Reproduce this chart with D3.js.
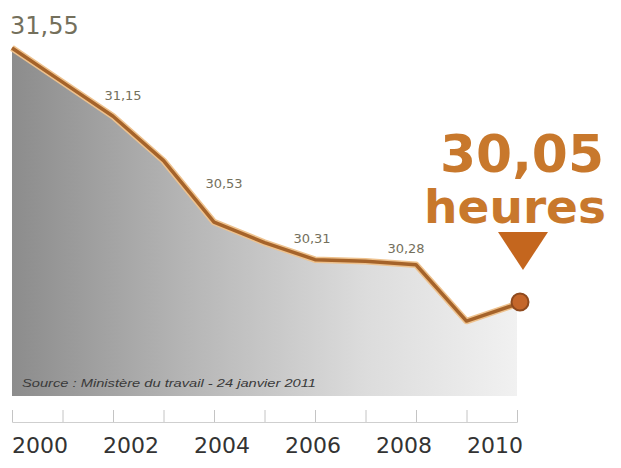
<!DOCTYPE html>
<html lang="fr">
<head>
<meta charset="UTF-8">
<title>Durée hebdomadaire du travail</title>
<script src="https://d3js.org/d3.v7.min.js"></script>
<style>
  body { margin: 0; background: #fff; }
  svg { display: block; }
</style>
</head>
<body>
<svg id="chart" width="621" height="468"></svg>
<script>
// Données
const years = [2000, 2001, 2002, 2003, 2004, 2005, 2006, 2007, 2008, 2009, 2010];
const hours = [31.55, 31.35, 31.15, 30.89, 30.53, 30.41, 30.31, 30.30, 30.28, 29.95, 30.05];
const labelYears = [2000, 2002, 2004, 2006, 2008, 2010];
const valueLabels = ["31,55", "31,15", "30,53", "30,31", "30,28"];
const valueLabelYears = [2000, 2002, 2004, 2006, 2008];
const lastValue = "30,05";
const unit = "heures";
const source = "Source : Ministère du travail - 24 janvier 2011";

const data = years.map((y, i) => ({ year: y, value: hours[i] }));

const svg = d3.select("#chart");
const defs = svg.append("defs");

const x = d3.scaleLinear().domain([2000, 2010]).range([12, 517]);
const y = d3.scaleLinear().domain([30.05, 31.55]).range([304, 48]);
const labelX = d3.scaleLinear().domain([2000, 2010]).range([40, 495]);
const baseY = 396;

// dégradé de fond
const grad = defs.append("linearGradient")
    .attr("id", "fillGrad")
    .attr("x1", "0%").attr("y1", "0%").attr("x2", "100%").attr("y2", "0%");
grad.append("stop").attr("offset", "0%").attr("stop-color", "#8c8c8c");
grad.append("stop").attr("offset", "35%").attr("stop-color", "#b6b6b6");
grad.append("stop").attr("offset", "70%").attr("stop-color", "#dcdcdc");
grad.append("stop").attr("offset", "100%").attr("stop-color", "#f1f1f1");

const area = d3.area()
    .x(d => x(d.year))
    .y0(baseY)
    .y1(d => y(d.value));

svg.append("path")
    .datum(data)
    .attr("d", area)
    .attr("fill", "url(#fillGrad)");

// ligne
const line = d3.line()
    .x(d => x(d.year))
    .y(d => y(d.value));

svg.append("path")
    .datum(data)
    .attr("d", line)
    .attr("fill", "none")
    .attr("stroke", "#eec28e")
    .attr("stroke-width", 6.5)
    .attr("stroke-linejoin", "round");

svg.append("path")
    .datum(data)
    .attr("d", line)
    .attr("fill", "none")
    .attr("stroke", "#a5632a")
    .attr("stroke-width", 3.5)
    .attr("stroke-linejoin", "round");

// point final
const last = data[data.length - 1];
svg.append("circle")
    .attr("cx", x(last.year) + 3)
    .attr("cy", y(last.value) - 2)
    .attr("r", 8.5)
    .attr("fill", "#c4662a")
    .attr("stroke", "#8f4a1e")
    .attr("stroke-width", 2);

// source
svg.append("text")
    .attr("x", 22)
    .attr("y", 387)
    .attr("font-family", "Liberation Sans, Arial, sans-serif")
    .attr("font-size", 11.5)
    .attr("font-style", "italic")
    .attr("fill", "#3a3a3a")
    .attr("textLength", 294)
    .attr("lengthAdjust", "spacingAndGlyphs")
    .text(source);

// étiquettes de valeurs
const offsets = [[-2, -14], [10, -16], [10, -34], [-3, -17], [-10, -12]];
svg.selectAll("text.val")
    .data(valueLabels)
    .join("text")
    .attr("class", "val")
    .attr("x", (d, i) => x(valueLabelYears[i]) + offsets[i][0])
    .attr("y", (d, i) => y(hours[years.indexOf(valueLabelYears[i])]) + offsets[i][1])
    .attr("text-anchor", (d, i) => i === 0 ? "start" : "middle")
    .attr("font-family", "DejaVu Sans, sans-serif")
    .attr("font-size", (d, i) => i === 0 ? 24 : 13)
    .attr("fill", "#74705c")
    .text(d => d);

// grosse valeur
svg.append("text")
    .attr("x", 522)
    .attr("y", 172)
    .attr("text-anchor", "middle")
    .attr("font-family", "DejaVu Sans, sans-serif")
    .attr("font-weight", "bold")
    .attr("font-size", 52)
    .attr("fill", "#c8782c")
    .attr("textLength", 164)
    .attr("lengthAdjust", "spacingAndGlyphs")
    .text(lastValue);

svg.append("text")
    .attr("x", 515)
    .attr("y", 223)
    .attr("text-anchor", "middle")
    .attr("font-family", "DejaVu Sans, sans-serif")
    .attr("font-weight", "bold")
    .attr("font-size", 46)
    .attr("fill", "#c8782c")
    .attr("textLength", 182)
    .attr("lengthAdjust", "spacingAndGlyphs")
    .text(unit);

// triangle
const tx = x(last.year) + 6;
svg.append("path")
    .attr("d", `M${tx - 25},232 L${tx + 25},232 L${tx},270 Z`)
    .attr("fill", "#c4661e");

// axe
const axis = d3.axisBottom(x)
    .tickValues(years)
    .tickSize(-12)
    .tickFormat("");

const gAxis = svg.append("g")
    .attr("transform", `translate(0, 422)`)
    .call(axis);
gAxis.select(".domain").attr("stroke", "#cfcfcf");
gAxis.selectAll(".tick line").attr("stroke", "#c4c4c4");

svg.selectAll("text.year")
    .data(labelYears)
    .join("text")
    .attr("class", "year")
    .attr("x", d => labelX(d))
    .attr("y", 453)
    .attr("text-anchor", "middle")
    .attr("font-family", "DejaVu Sans, sans-serif")
    .attr("font-size", 22)
    .attr("fill", "#333")
    .text(d => d);
</script>
</body>
</html>
